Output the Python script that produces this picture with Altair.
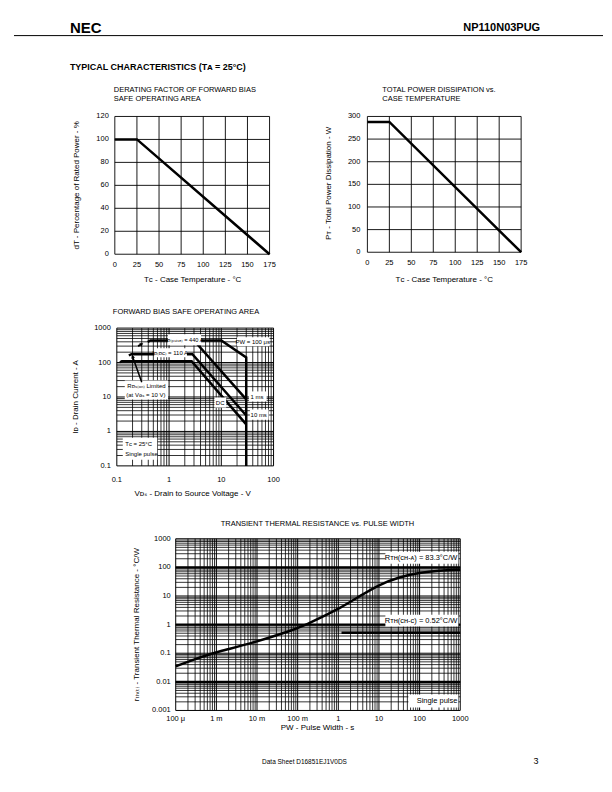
import altair as alt
import pandas as pd

FONT = "Liberation Sans, Arial, Helvetica, DejaVu Sans, sans-serif"
VIEW_W, VIEW_H = 596, 770

# ---------------- data ----------------
# Derating factor of forward bias SOA
derate_tc = [0, 25, 175]
derate_pct = [100, 100, 0]
derate_xticks = [0, 25, 50, 75, 100, 125, 150, 175]
derate_yticks = [0, 20, 40, 60, 80, 100, 120]

# Total power dissipation vs case temperature
power_tc = [0, 25, 175]
power_w = [288, 288, 0]
power_xticks = [0, 25, 50, 75, 100, 125, 150, 175]
power_yticks = [0, 50, 100, 150, 200, 250, 300]

# Forward bias safe operating area (VDS [V], ID [A])
soa_dc_v = [0.115, 0.125, 2.7, 30]
soa_dc_i = [102, 110, 110, 1.6]
soa_10ms_v = [0.17, 0.19, 2.8, 30]
soa_10ms_i = [160, 175, 175, 2.9]
soa_1ms_v = [0.39, 0.44, 3.0, 30]
soa_1ms_i = [395, 440, 440, 8.5]
soa_100us_v = [3.0, 10, 30, 30]
soa_100us_i = [440, 440, 140, 0.1]
soa_xticks = [0.1, 1, 10, 100]
soa_xlabels = ["0.1", "1", "10", "100"]
soa_yticks = [0.1, 1, 10, 100, 1000]
soa_ylabels = ["0.1", "1", "10", "100", "1000"]

# Transient thermal resistance vs pulse width
pw_s = [1e-4, 4.7e-4, 1e-3, 8e-3, 0.053, 0.134, 0.5, 1, 3, 10, 30, 100, 300, 1000]
rth = [0.035, 0.078, 0.11, 0.23, 0.54, 0.87, 2.2, 3.5, 8.9, 24.8, 45, 66, 78, 83]
rth_chc_pw = [1.2, 1000]
rth_chc_val = [0.52, 0.52]
th_xticks = [1e-4, 1e-3, 1e-2, 1e-1, 1, 10, 100, 1000]
th_xlabels = ["100 μ", "1 m", "10 m", "100 m", "1", "10", "100", "1000"]
th_yticks = [1e-3, 1e-2, 1e-1, 1, 10, 100, 1000]
th_ylabels = ["0.001", "0.01", "0.1", "1", "10", "100", "1000"]
th_thick_y = [0.01, 1, 100]

ONE = pd.DataFrame({"k": [0]})


def log_minor(lo, hi):
    vals = []
    for e in range(lo, hi):
        for k in range(2, 10):
            vals.append(k * 10.0 ** e)
    return vals


def log_major(lo, hi):
    return [10.0 ** e for e in range(lo, hi + 1)]


# ---------------- helpers ----------------
def lin_scale(dom, rng):
    return alt.Scale(type="linear", domain=dom, range=rng, nice=False, zero=False)


def log_scale(dom, rng):
    return alt.Scale(type="log", domain=dom, range=rng, nice=False)


def ex(field, sc):
    return alt.X(field, type="quantitative", scale=sc, axis=None)


def ey(field, sc):
    return alt.Y(field, type="quantitative", scale=sc, axis=None)


def grid(xs, ys, xdom, ydom, xg, yg, width=0.9):
    vdf = pd.DataFrame({"gx": xg, "gy1": [ydom[0]] * len(xg), "gy2": [ydom[1]] * len(xg)})
    hdf = pd.DataFrame({"gy": yg, "gx1": [xdom[0]] * len(yg), "gx2": [xdom[1]] * len(yg)})
    v = alt.Chart(vdf).mark_rule(color="black", strokeWidth=width).encode(
        x=ex("gx", xs), y=ey("gy1", ys), y2="gy2:Q")
    h = alt.Chart(hdf).mark_rule(color="black", strokeWidth=width).encode(
        x=ex("gx1", xs), x2="gx2:Q", y=ey("gy", ys))
    return [v, h]


def hlines(xs, ys, xdom, yvals, width):
    hdf = pd.DataFrame({"gy": yvals, "gx1": [xdom[0]] * len(yvals), "gx2": [xdom[1]] * len(yvals)})
    return alt.Chart(hdf).mark_rule(color="black", strokeWidth=width).encode(
        x=ex("gx1", xs), x2="gx2:Q", y=ey("gy", ys))


def xlab(xs, ys, vals, labels, y_at, dy, size=7.5):
    df = pd.DataFrame({"lx": vals, "ly": [y_at] * len(vals), "lt": labels})
    return alt.Chart(df).mark_text(font=FONT, fontSize=size, dy=dy, baseline="middle",
                                   align="center", color="black").encode(
        x=ex("lx", xs), y=ey("ly", ys), text="lt:N")


def ylab(xs, ys, vals, labels, x_at, dx, size=7.5):
    df = pd.DataFrame({"ly": vals, "lx": [x_at] * len(vals), "lt": labels})
    return alt.Chart(df).mark_text(font=FONT, fontSize=size, dx=dx, baseline="middle",
                                   align="right", color="black").encode(
        x=ex("lx", xs), y=ey("ly", ys), text="lt:N")


def series(xs, ys, xv, yv, width=2.5, interp="linear"):
    df = pd.DataFrame({"sx": xv, "sy": yv, "so": list(range(len(xv)))})
    return alt.Chart(df).mark_line(color="black", strokeWidth=width, interpolate=interp).encode(
        x=ex("sx", xs), y=ey("sy", ys), order="so:Q")


def box(xs, ys, x1, x2, y1, y2):
    df = pd.DataFrame({"bx1": [x1], "bx2": [x2], "by1": [y1], "by2": [y2]})
    return alt.Chart(df).mark_rect(color="white").encode(
        x=ex("bx1", xs), x2="bx2:Q", y=ey("by1", ys), y2="by2:Q")


def note(xs, ys, x, y, s, size=6.0, align="center"):
    df = pd.DataFrame({"nx": [x], "ny": [y]})
    return alt.Chart(df).mark_text(text=s, font=FONT, fontSize=size, align=align,
                                   baseline="middle", color="black").encode(
        x=ex("nx", xs), y=ey("ny", ys))


def arrowhead(xs, ys, x, y, angle):
    df = pd.DataFrame({"ax": [x], "ay": [y]})
    return alt.Chart(df).mark_point(shape="triangle-up", filled=True, size=16, color="black",
                                    opacity=1, angle=angle).encode(
        x=ex("ax", xs), y=ey("ay", ys))


def ptext(s, x, y, size=8.0, align="left", weight="normal", angle=0):
    kw = dict(text=s, font=FONT, fontSize=size, align=align, baseline="middle",
              fontWeight=weight, color="black")
    if angle:
        kw["angle"] = angle
    return alt.Chart(ONE).mark_text(**kw).encode(x=alt.value(x - 8), y=alt.value(y - 8))


def V(p):  # page pixel -> view pixel
    return p - 8


# ---------------- page texts ----------------
page = [
    ptext("NEC", 70, 27, size=15, weight="bold"),
    ptext("NP110N03PUG", 541, 27, size=11, weight="bold", align="right"),
    alt.Chart(ONE).mark_rule(color="black", strokeWidth=1).encode(
        x=alt.value(V(14)), x2=alt.value(V(604)), y=alt.value(V(35))),
    ptext("TYPICAL  CHARACTERISTICS (Tᴀ = 25°C)", 70, 66, size=9, weight="bold"),
    ptext("DERATING FACTOR OF FORWARD BIAS", 114, 89, size=7.5),
    ptext("SAFE OPERATING AREA", 114, 99, size=7.5),
    ptext("TOTAL POWER DISSIPATION vs.", 383, 89, size=7.5),
    ptext("CASE TEMPERATURE", 383, 99, size=7.5),
    ptext("FORWARD BIAS SAFE OPERATING AREA", 113, 312, size=7.5),
    ptext("TRANSIENT THERMAL RESISTANCE vs. PULSE WIDTH", 318, 524, size=7.5, align="center"),
    ptext("Tᴄ - Case Temperature - °C", 193, 280, size=8, align="center"),
    ptext("dT - Percentage of Rated Power - %", 77, 185, size=8, align="center", angle=270),
    ptext("Tᴄ - Case Temperature - °C", 445, 280, size=8, align="center"),
    ptext("Pᴛ - Total Power Dissipation - W", 330, 183, size=8, align="center", angle=270),
    ptext("Vᴅₛ - Drain to Source Voltage - V", 193, 494, size=8, align="center"),
    ptext("Iᴅ - Drain Current - A", 76, 397, size=8, align="center", angle=270),
    ptext("PW - Pulse Width - s", 318, 729, size=8, align="center"),
    ptext("rₜₕ₍ₜ₎ - Transient Thermal Resistance - °C/W", 137, 625, size=8, align="center", angle=270),
    ptext("Data Sheet  D16851EJ1V0DS", 305, 763, size=6.5, align="center"),
    ptext("3", 537, 762, size=9, align="center"),
]

# ---------------- panel 1: derating ----------------
x1s = lin_scale([0, 175], [V(115), V(270)])
y1s = lin_scale([0, 120], [V(254), V(116)])
p1 = alt.layer(
    *grid(x1s, y1s, [0, 175], [0, 120], derate_xticks, derate_yticks),
    series(x1s, y1s, derate_tc, derate_pct),
    xlab(x1s, y1s, derate_xticks, [str(v) for v in derate_xticks], 0, 11),
    ylab(x1s, y1s, derate_yticks, [str(v) for v in derate_yticks], 0, -6),
)

# ---------------- panel 2: power ----------------
x2s = lin_scale([0, 175], [V(368), V(522)])
y2s = lin_scale([0, 300], [V(252), V(116)])
p2 = alt.layer(
    *grid(x2s, y2s, [0, 175], [0, 300], power_xticks, power_yticks),
    series(x2s, y2s, power_tc, power_w),
    xlab(x2s, y2s, power_xticks, [str(v) for v in power_xticks], 0, 11),
    ylab(x2s, y2s, power_yticks, [str(v) for v in power_yticks], 0, -7),
)

# ---------------- panel 3: SOA ----------------
x3s = log_scale([0.1, 100], [V(117), V(274)])
y3s = log_scale([0.1, 1000], [V(466), V(328)])
p3 = alt.layer(
    *grid(x3s, y3s, [0.1, 100], [0.1, 1000], log_minor(-1, 2), log_minor(-1, 3), width=0.8),
    *grid(x3s, y3s, [0.1, 100], [0.1, 1000], log_major(-1, 2), log_major(-1, 3), width=1.0),
    series(x3s, y3s, soa_dc_v, soa_dc_i),
    series(x3s, y3s, soa_10ms_v, soa_10ms_i),
    series(x3s, y3s, soa_1ms_v, soa_1ms_i),
    series(x3s, y3s, soa_100us_v, soa_100us_i),
    box(x3s, y3s, 0.95, 4.1, 319, 668),
    box(x3s, y3s, 0.52, 2.2, 142, 261),
    box(x3s, y3s, 20, 84, 298, 546),
    box(x3s, y3s, 0.142, 0.957, 8.45, 30.3),
    box(x3s, y3s, 7.38, 12.4, 4.93, 9.67),
    box(x3s, y3s, 33.8, 73.8, 7.39, 14.5),
    box(x3s, y3s, 35.2, 80.5, 2.2, 4.31),
    box(x3s, y3s, 0.13, 0.594, 0.15, 0.657),
    series(x3s, y3s, [0.30, 0.20], [27, 150], width=1.5),
    arrowhead(x3s, y3s, 0.20, 150, 340),
    series(x3s, y3s, [0.255, 0.30], [300, 345], width=1.8),
    arrowhead(x3s, y3s, 0.30, 345, 60),
    note(x3s, y3s, 1.98, 440, "Iᴅ₍ₚᵤₗₛₑ₎ = 440 A", size=5.6),
    note(x3s, y3s, 1.05, 193, "Iᴅ₍ᴅᴄ₎ = 110 A", size=6),
    note(x3s, y3s, 40, 403, "PW = 100 μs", size=6),
    note(x3s, y3s, 0.37, 20.9, "Rᴅₛ₍ₒₙ₎ Limited", size=6),
    note(x3s, y3s, 0.36, 11.8, "(at Vɢₛ = 10 V)", size=6),
    note(x3s, y3s, 9.5, 6.9, "DC", size=6),
    note(x3s, y3s, 48, 10.3, "1 ms", size=6),
    note(x3s, y3s, 52, 3.08, "10 ms", size=6),
    note(x3s, y3s, 0.145, 0.438, "Tᴄ = 25°C", size=6, align="left"),
    note(x3s, y3s, 0.145, 0.224, "Single pulse", size=6, align="left"),
    xlab(x3s, y3s, soa_xticks, soa_xlabels, 0.1, 14),
    ylab(x3s, y3s, soa_yticks, soa_ylabels, 0.1, -6),
)

# ---------------- panel 4: transient thermal ----------------
x4s = log_scale([1e-4, 1e3], [V(176), V(461)])
y4s = log_scale([1e-3, 1e3], [V(711), V(539)])
p4 = alt.layer(
    *grid(x4s, y4s, [1e-4, 1e3], [1e-3, 1e3], log_minor(-4, 3), log_minor(-3, 3), width=0.8),
    *grid(x4s, y4s, [1e-4, 1e3], [1e-3, 1e3], log_major(-4, 3), log_major(-3, 3), width=1.0),
    hlines(x4s, y4s, [1e-4, 1e3], th_thick_y, 2.2),
    series(x4s, y4s, rth_chc_pw, rth_chc_val, width=2.5),
    series(x4s, y4s, pw_s, rth, width=2.5, interp="basis"),
    box(x4s, y4s, 14.4, 898, 134, 352),
    box(x4s, y4s, 14.4, 898, 0.852, 2.23),
    box(x4s, y4s, 53, 898, 0.00127, 0.0036),
    note(x4s, y4s, 850, 217, "Rᴛʜ(ᴄʜ-ᴀ) = 83.3°C/W", size=7.5, align="right"),
    note(x4s, y4s, 850, 1.38, "Rᴛʜ(ᴄʜ-ᴄ) = 0.52°C/W", size=7.5, align="right"),
    note(x4s, y4s, 850, 0.00215, "Single pulse", size=7.5, align="right"),
    xlab(x4s, y4s, th_xticks, th_xlabels, 1e-3, 9),
    ylab(x4s, y4s, th_yticks, th_ylabels, 1e-4, -5),
)

chart = alt.layer(*page, p1, p2, p3, p4).resolve_scale(
    x="independent", y="independent"
).properties(width=VIEW_W, height=VIEW_H, padding=0).configure_view(stroke=None)

chart.save("out.html", embed_options={"renderer": "svg", "actions": False})
